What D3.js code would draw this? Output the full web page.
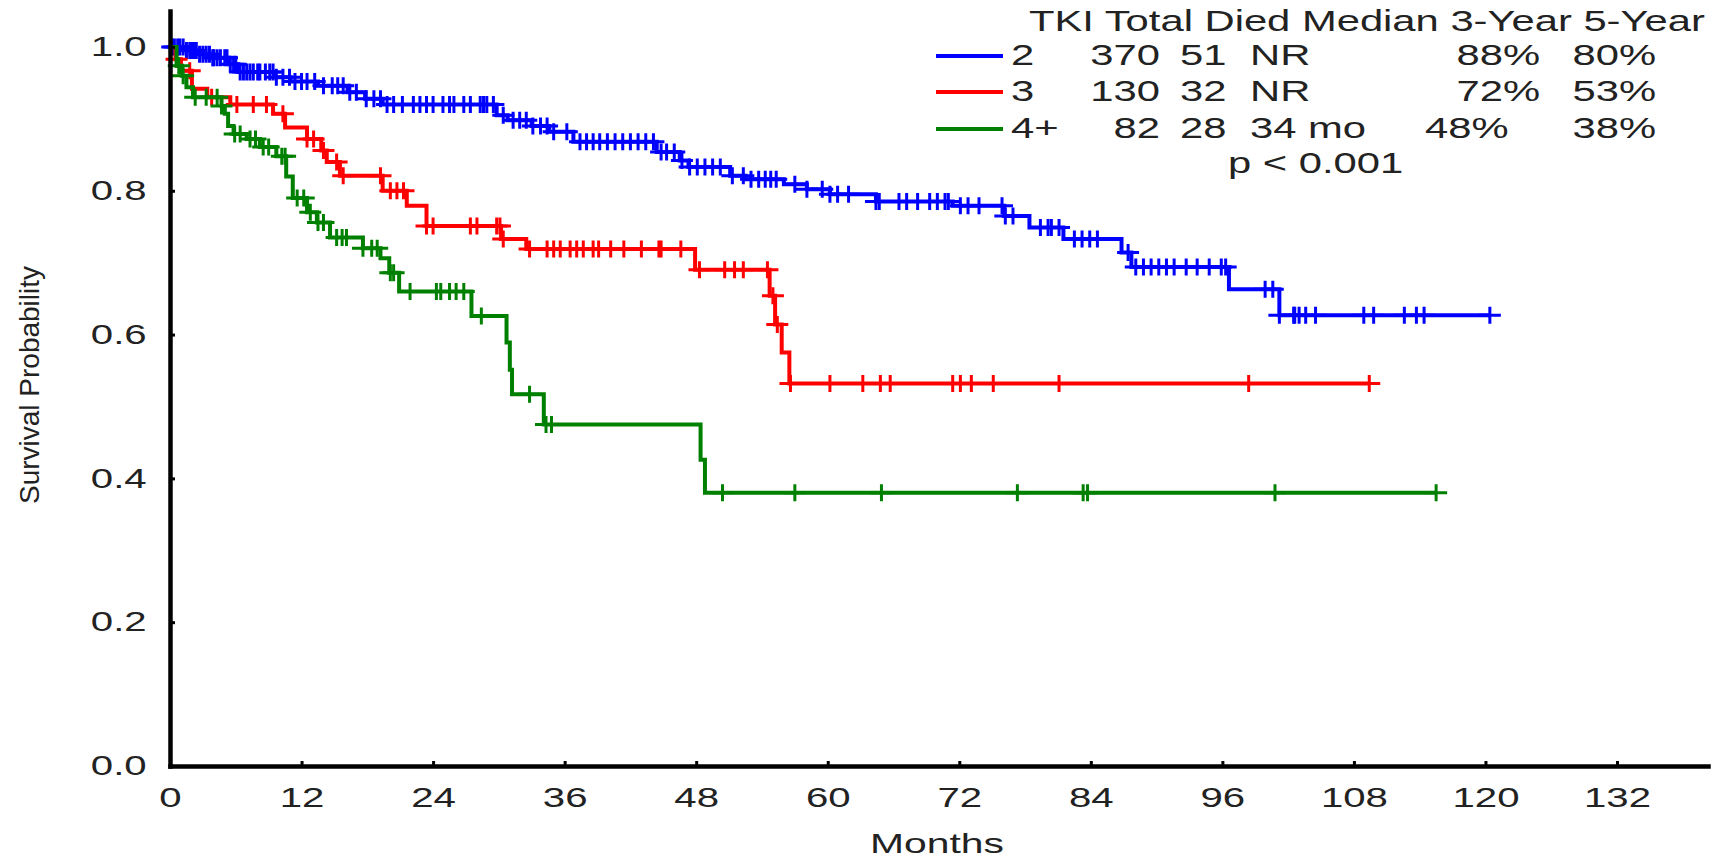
<!DOCTYPE html>
<html>
<head>
<meta charset="utf-8">
<script src="https://cdn.jsdelivr.net/npm/d3@7"></script>
<style>
  html, body { margin: 0; padding: 0; background: #fff; }
  svg { display: block; }
  text { font-family: 'Liberation Sans', Arial, sans-serif; fill: #222; }
</style>
</head>
<body>
<svg id="chart" width="1724" height="859"></svg>
<script>
const width = 1724
const height = 859

// the source picture is stretched sideways, so is its text
const SX = 1.46

const monthTicks = [0, 12, 24, 36, 48, 60, 72, 84, 96, 108, 120, 132]
const probTicks = [0, 0.2, 0.4, 0.6, 0.8, 1.0]

// legend table
const header = 'TKI Total Died Median 3-Year 5-Year'
const tki = ['2', '3', '4+']
const totals = ['370', '130', '82']
const died = ['51', '32', '28']
const medians = ['NR', 'NR', '34 mo']
const year3 = ['88%', '72%', '48%']
const year5 = ['80%', '53%', '38%']
const pValue = 'p < 0.001'
const colors = ['#0000ff', '#ff0000', '#008000']

// [month, survival] at each drop
const blueSteps = [
  [0, 1], [1.5, 0.995], [2.7, 0.99], [3.8, 0.985], [5.4, 0.976], [6.2, 0.965],
  [9.5, 0.958], [11, 0.952], [13.5, 0.946], [16.2, 0.937], [17.8, 0.928],
  [19.4, 0.92], [29.8, 0.905], [30.8, 0.898], [33, 0.89], [34.6, 0.882],
  [36.8, 0.868], [44.4, 0.854], [46.5, 0.842], [47.3, 0.833], [51.1, 0.821],
  [52.5, 0.816], [56, 0.809], [58.1, 0.802], [60.2, 0.795], [64.4, 0.785],
  [71.4, 0.779], [76.1, 0.765], [78.4, 0.749], [81.5, 0.733], [86.8, 0.714],
  [87.7, 0.694], [96.6, 0.663], [101.2, 0.627]
]
const redSteps = [
  [0, 1], [0.5, 0.983], [1.0, 0.967], [2.0, 0.942], [3.4, 0.93], [5.5, 0.92],
  [9.4, 0.907], [10.5, 0.888], [12.5, 0.872], [13.8, 0.856], [14.3, 0.84],
  [15.5, 0.821], [19.4, 0.8], [21.6, 0.779], [23.4, 0.751], [30.2, 0.733],
  [32.5, 0.719], [47.9, 0.69], [54.7, 0.654], [55.2, 0.614], [55.8, 0.575],
  [56.5, 0.532]
]
const greenSteps = [
  [0, 1], [0.6, 0.974], [1.1, 0.96], [1.5, 0.944], [2.1, 0.93], [4.7, 0.918],
  [5.0, 0.907], [5.3, 0.89], [5.8, 0.879], [7.0, 0.872], [8.2, 0.861],
  [9.7, 0.848], [10.6, 0.82], [11.2, 0.79], [12.5, 0.77], [13.4, 0.756],
  [14.6, 0.735], [17.6, 0.72], [19.2, 0.706], [20.0, 0.686], [20.9, 0.66],
  [27.5, 0.626], [30.7, 0.589], [31.0, 0.551], [31.2, 0.517], [34.1, 0.475],
  [48.4, 0.426], [48.8, 0.38]
]

// censored times (months)
const blueCensor = [
  0.2, 0.4, 0.7, 0.9, 1.2, 1.5, 1.8, 2.0, 2.2, 2.4, 2.7, 3.0, 3.3, 3.6, 3.9,
  4.0, 4.3, 4.6, 5.0, 5.2, 5.5, 5.8, 6.0, 6.4, 6.7, 7.0, 7.3, 7.6, 8.0, 8.2,
  8.7, 9.1, 9.4, 9.7, 10.3, 10.9, 11.4, 12.0, 12.5, 13.2, 14.0, 14.8, 15.3,
  15.8, 16.4, 17.0, 17.9, 18.6, 19.2, 19.8, 20.4, 21.2, 22.2, 22.8, 23.4, 24.0,
  24.9, 25.5, 25.9, 26.8, 27.4, 28.3, 28.6, 28.9, 29.5, 30.4, 31.3, 31.9, 32.5,
  33.1, 33.8, 34.4, 35.0, 36.2, 37.4, 38.0, 38.6, 39.2, 39.9, 40.6, 41.3, 42.0,
  42.7, 43.4, 44.1, 44.8, 45.3, 46.0, 46.7, 47.4, 48.1, 48.8, 49.5, 50.2, 51.3,
  52.3, 53.0, 53.7, 54.3, 54.8, 55.3, 57.0, 58.1, 59.5, 60.2, 60.9, 61.9, 64.4,
  64.7, 66.5, 67.2, 68.2, 69.3, 70.0, 70.7, 71.0, 72.1, 72.8, 73.8, 75.9, 76.2,
  76.9, 79.4, 80.1, 80.4, 81.1, 82.5, 83.2, 83.9, 84.6, 87.4, 88.1, 88.8, 89.5,
  90.2, 90.9, 91.6, 92.7, 93.7, 94.8, 95.9, 96.3, 99.9, 100.6, 101.2, 102.5,
  102.6, 103.0, 103.6, 104.5, 108.9, 109.8, 112.6, 113.7, 114.4, 120.4
]
const redCensor = [
  0.6, 1.8, 3.8, 6.1, 7.6, 8.8, 10.3, 12.5, 13.1, 14.0, 15.2, 15.8, 19.2, 20.1,
  20.7, 21.3, 23.4, 24.0, 27.4, 28.0, 29.8, 30.1, 30.4, 32.8, 34.4, 35.0, 35.6,
  36.5, 37.1, 37.7, 38.6, 39.1, 40.2, 41.4, 43.0, 44.6, 44.8, 46.6, 48.3, 50.6,
  51.5, 52.3, 54.5, 55.0, 55.4, 56.6, 60.2, 63.2, 64.8, 65.7, 71.4, 72.1, 73.1,
  75.1, 81.1, 98.4, 109.4
]
const greenCensor = [
  0.8, 1.2, 2.3, 3.3, 4.3, 4.7, 5.9, 6.4, 7.3, 7.8, 8.5, 9.0, 10.2, 10.5, 11.6,
  12.2, 12.8, 13.5, 14.0, 15.2, 15.7, 16.1, 17.6, 18.4, 18.9, 20.1, 20.4, 21.9,
  24.3, 24.7, 25.5, 26.1, 26.8, 28.4, 32.8, 34.3, 34.8, 50.4, 57.0, 64.9, 77.3,
  83.3, 83.7, 100.8, 115.5
]

const series = [
  { steps: blueSteps, censor: blueCensor, color: colors[0] },
  { steps: redSteps, censor: redCensor, color: colors[1] },
  { steps: greenSteps, censor: greenCensor, color: colors[2] }
]

const svg = d3.select('svg#chart')

const x = d3.scaleLinear().domain([0, 140.3]).range([170, 1708])
const y = d3.scaleLinear().domain([0, 1.05]).range([766, 11])

function survivalAt (steps, t) {
  const i = d3.bisector(d => d[0]).right(steps, t) - 1
  return steps[Math.max(i, 0)][1]
}

const line = d3.line()
  .x(d => x(d[0]))
  .y(d => y(d[1]))
  .curve(d3.curveStepAfter)

// curves
const plot = svg.append('g')
series.forEach(s => {
  const end = d3.max(s.censor)
  const pts = s.steps.concat([[end, survivalAt(s.steps, end)]])
  plot.append('path')
    .attr('d', line(pts))
    .attr('fill', 'none')
    .attr('stroke', s.color)
    .attr('stroke-width', 4)

  plot.append('g')
    .selectAll('path')
    .data(s.censor)
    .join('path')
    .attr('d', t => {
      const cx = x(t)
      const cy = y(survivalAt(s.steps, t))
      return `M${cx - 11},${cy}h22M${cx},${cy - 8.5}v17`
    })
    .attr('stroke', s.color)
    .attr('stroke-width', 3)
    .attr('fill', 'none')
})

// axes
const xAxis = svg.append('g')
  .attr('transform', `translate(0,${y(0)})`)
  .call(d3.axisBottom(x)
    .tickValues(monthTicks)
    .tickFormat(d3.format('d'))
    .tickSizeInner(-5)
    .tickSizeOuter(0)
    .tickPadding(21))

const yAxis = svg.append('g')
  .attr('transform', `translate(${x(0)},0)`)
  .call(d3.axisLeft(y)
    .tickValues(probTicks)
    .tickFormat(d3.format('.1f'))
    .tickSizeInner(-5)
    .tickSizeOuter(0)
    .tickPadding(16))

;[xAxis, yAxis].forEach(ax => {
  ax.attr('font-size', null).attr('font-family', null)
  ax.select('.domain')
    .attr('stroke', '#000')
    .attr('stroke-width', 4.5)
    .attr('stroke-linecap', 'square')
  ax.selectAll('.tick line')
    .attr('stroke', '#000')
    .attr('stroke-width', 3)
  ax.selectAll('.tick text')
    .attr('fill', '#222')
    .style('font-size', '27.5px')
    .attr('transform', `scale(${SX},1)`)
})

// axis titles
svg.append('text')
  .attr('transform', `translate(937,853) scale(${SX},1)`)
  .attr('text-anchor', 'middle')
  .style('font-size', '28px')
  .text('Months')

svg.append('text')
  .attr('transform', 'translate(39,385) rotate(-90)')
  .attr('text-anchor', 'middle')
  .style('font-size', '28px')
  .text('Survival Probability')

// legend
const legend = svg.append('g').style('font-size', '28.6px')

function label (px, py, str, anchor) {
  legend.append('text')
    .attr('transform', `translate(${px},${py}) scale(${SX},1)`)
    .attr('text-anchor', anchor || 'start')
    .text(str)
}

label(1029, 31, header)
const rowY = [65, 101, 138]
tki.forEach((t, i) => {
  const by = rowY[i]
  legend.append('line')
    .attr('x1', 936).attr('x2', 1003)
    .attr('y1', by - 9).attr('y2', by - 9)
    .attr('stroke', colors[i])
    .attr('stroke-width', 4)
  label(1011, by, t)
  label(1160, by, totals[i], 'end')
  label(1180, by, died[i])
  label(1250, by, medians[i])
  if (medians[i] === 'NR') {
    label(1540, by, year3[i], 'end')
  } else {
    label(1425, by, year3[i])
  }
  label(1656, by, year5[i], 'end')
})
label(1228, 173, pValue)
</script>
</body>
</html>
